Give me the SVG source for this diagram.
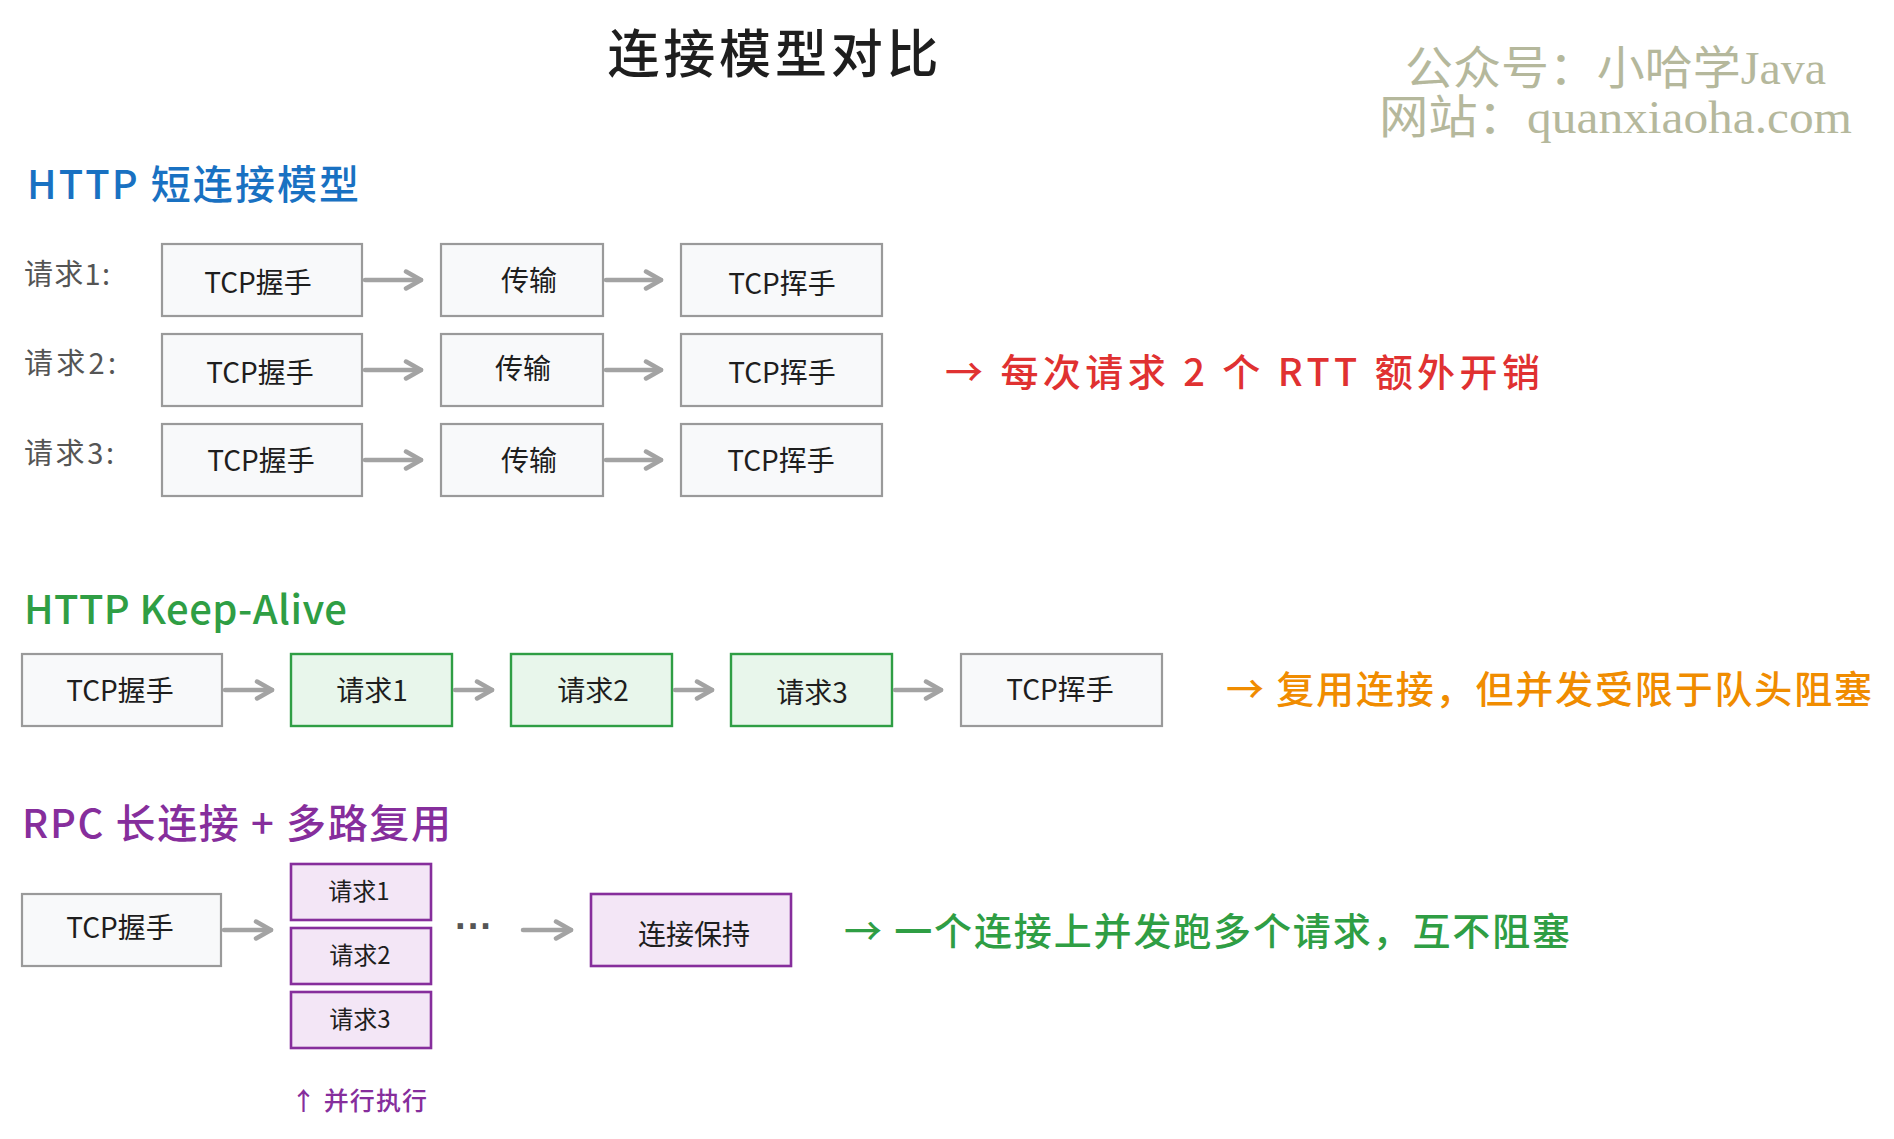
<svg xmlns="http://www.w3.org/2000/svg" width="1894" height="1139" viewBox="0 0 1894 1139">
<defs>
<marker id="ah" viewBox="0 0 12 12" refX="10" refY="6" markerWidth="5" markerHeight="5" markerUnits="strokeWidth" orient="auto">
<path d="M2,1.5 L10,6 L2,10.5" fill="none" stroke="#a3a3a3" stroke-width="2.4" stroke-linecap="round" stroke-linejoin="round"/>
</marker>
</defs>
<style>
text{font-family:"Noto Sans CJK SC","Liberation Sans",sans-serif;}
.box{fill:#f8f9fa;stroke:#9a9a9a;stroke-width:2.2;}
.gbox{fill:#e8f6eb;stroke:#2f9e44;stroke-width:2.4;}
.pbox{fill:#f3e6f6;stroke:#862e9c;stroke-width:2.6;}
.bt{font-size:28px;fill:#1e1e1e;text-anchor:middle;dominant-baseline:central;}
.st{font-size:24px;fill:#1e1e1e;text-anchor:middle;dominant-baseline:central;}
.lbl{font-size:29px;fill:#555;dominant-baseline:central;}
.arr{fill:none;stroke:#a3a3a3;stroke-width:4.5;stroke-linecap:round;marker-end:url(#ah);}
.h{font-size:40px;dominant-baseline:central;font-weight:500;}
.note{font-size:38px;dominant-baseline:central;font-weight:500;}
.wm{font-family:"Liberation Serif","Noto Sans CJK SC",serif;font-size:46px;fill:#b5b89c;}
.dots{font-family:"Liberation Sans",sans-serif;font-size:38px;font-weight:700;fill:#555;text-anchor:middle;dominant-baseline:central;}
</style>

<text x="773" y="50" font-size="52" font-weight="500" fill="#1e1e1e" text-anchor="middle" dominant-baseline="central" textLength="331" lengthAdjust="spacing">连接模型对比</text>

<g id="watermark">
<text class="wm" x="1405" y="84" textLength="421" lengthAdjust="spacingAndGlyphs">公众号：小哈学Java</text>
<text class="wm" x="1379" y="133" textLength="473" lengthAdjust="spacingAndGlyphs">网站：quanxiaoha.com</text>
</g>

<text class="h" x="27" y="182" fill="#1971c2" textLength="332" lengthAdjust="spacing">HTTP 短连接模型</text>

<g id="labels">
<text class="lbl" x="24" y="272" textLength="86" lengthAdjust="spacing">请求1:</text>
<text class="lbl" x="24" y="361" textLength="92" lengthAdjust="spacing">请求2:</text>
<text class="lbl" x="24" y="451" textLength="90" lengthAdjust="spacing">请求3:</text>
</g>

<g id="r1a"><rect class="box" x="162" y="244" width="200" height="72"/><text class="bt" x="258" y="281">TCP握手</text></g>
<g id="r1b"><rect class="box" x="441" y="244" width="162" height="72"/><text class="bt" x="529" y="279">传输</text></g>
<g id="r1c"><rect class="box" x="681" y="244" width="201" height="72"/><text class="bt" x="782" y="282">TCP挥手</text></g>

<g id="r2a"><rect class="box" x="162" y="334" width="200" height="72"/><text class="bt" x="260" y="371">TCP握手</text></g>
<g id="r2b"><rect class="box" x="441" y="334" width="162" height="72"/><text class="bt" x="523" y="367">传输</text></g>
<g id="r2c"><rect class="box" x="681" y="334" width="201" height="72"/><text class="bt" x="782" y="371">TCP挥手</text></g>

<g id="r3a"><rect class="box" x="162" y="424" width="200" height="72"/><text class="bt" x="261" y="459">TCP握手</text></g>
<g id="r3b"><rect class="box" x="441" y="424" width="162" height="72"/><text class="bt" x="529" y="459">传输</text></g>
<g id="r3c"><rect class="box" x="681" y="424" width="201" height="72"/><text class="bt" x="781" y="459">TCP挥手</text></g>

<text class="note" x="945" y="369" fill="#e03131" textLength="595" lengthAdjust="spacing">→ 每次请求 2 个 RTT 额外开销</text>

<text class="h" x="24" y="607" fill="#2f9e44" textLength="323" lengthAdjust="spacing">HTTP Keep-Alive</text>

<g id="k1"><rect class="box" x="22" y="654" width="200" height="72"/><text class="bt" x="120" y="689">TCP握手</text></g>
<g id="k2"><rect class="gbox" x="291" y="654" width="161" height="72"/><text class="bt" x="372" y="689">请求1</text></g>
<g id="k3"><rect class="gbox" x="511" y="654" width="161" height="72"/><text class="bt" x="593" y="689">请求2</text></g>
<g id="k4"><rect class="gbox" x="731" y="654" width="161" height="72"/><text class="bt" x="812" y="691">请求3</text></g>
<g id="k5"><rect class="box" x="961" y="654" width="201" height="72"/><text class="bt" x="1060" y="688">TCP挥手</text></g>

<text class="note" x="1226" y="686" fill="#f08c00" textLength="646" lengthAdjust="spacing">→ 复用连接，但并发受限于队头阻塞</text>

<text class="h" x="22" y="821" fill="#862e9c" font-size="38" textLength="429" lengthAdjust="spacing">RPC 长连接 + 多路复用</text>

<g id="p1"><rect class="box" x="22" y="894" width="199" height="72"/><text class="bt" x="120" y="926">TCP握手</text></g>
<g id="q1"><rect class="pbox" x="291" y="864" width="140" height="56"/><text class="st" x="359" y="889">请求1</text></g>
<g id="q2"><rect class="pbox" x="291" y="928" width="140" height="56"/><text class="st" x="360" y="953">请求2</text></g>
<g id="q3"><rect class="pbox" x="291" y="992" width="140" height="56"/><text class="st" x="360" y="1017">请求3</text></g>
<text class="dots" x="474" y="926">···</text>
<g id="p2"><rect class="pbox" x="591" y="894" width="200" height="72"/><text class="bt" x="694" y="933">连接保持</text></g>

<text class="note" x="844" y="928" fill="#2f9e44" textLength="726" lengthAdjust="spacing">→ 一个连接上并发跑多个请求，互不阻塞</text>
<text x="291" y="1099" font-size="25" font-weight="500" fill="#862e9c" dominant-baseline="central" textLength="136" lengthAdjust="spacing">↑ 并行执行</text>

<g id="connectors">
<path class="arr" d="M365,280 L421,280"/>
<path class="arr" d="M606,280 L661,280"/>
<path class="arr" d="M365,370 L421,370"/>
<path class="arr" d="M606,370 L661,370"/>
<path class="arr" d="M365,460 L421,460"/>
<path class="arr" d="M606,460 L661,460"/>
<path class="arr" d="M225,690 L272,690"/>
<path class="arr" d="M455,690 L492,690"/>
<path class="arr" d="M675,690 L712,690"/>
<path class="arr" d="M895,690 L941,690"/>
<path class="arr" d="M224,930 L271,930"/>
<path class="arr" d="M523,930 L571,930"/>
</g>
</svg>
